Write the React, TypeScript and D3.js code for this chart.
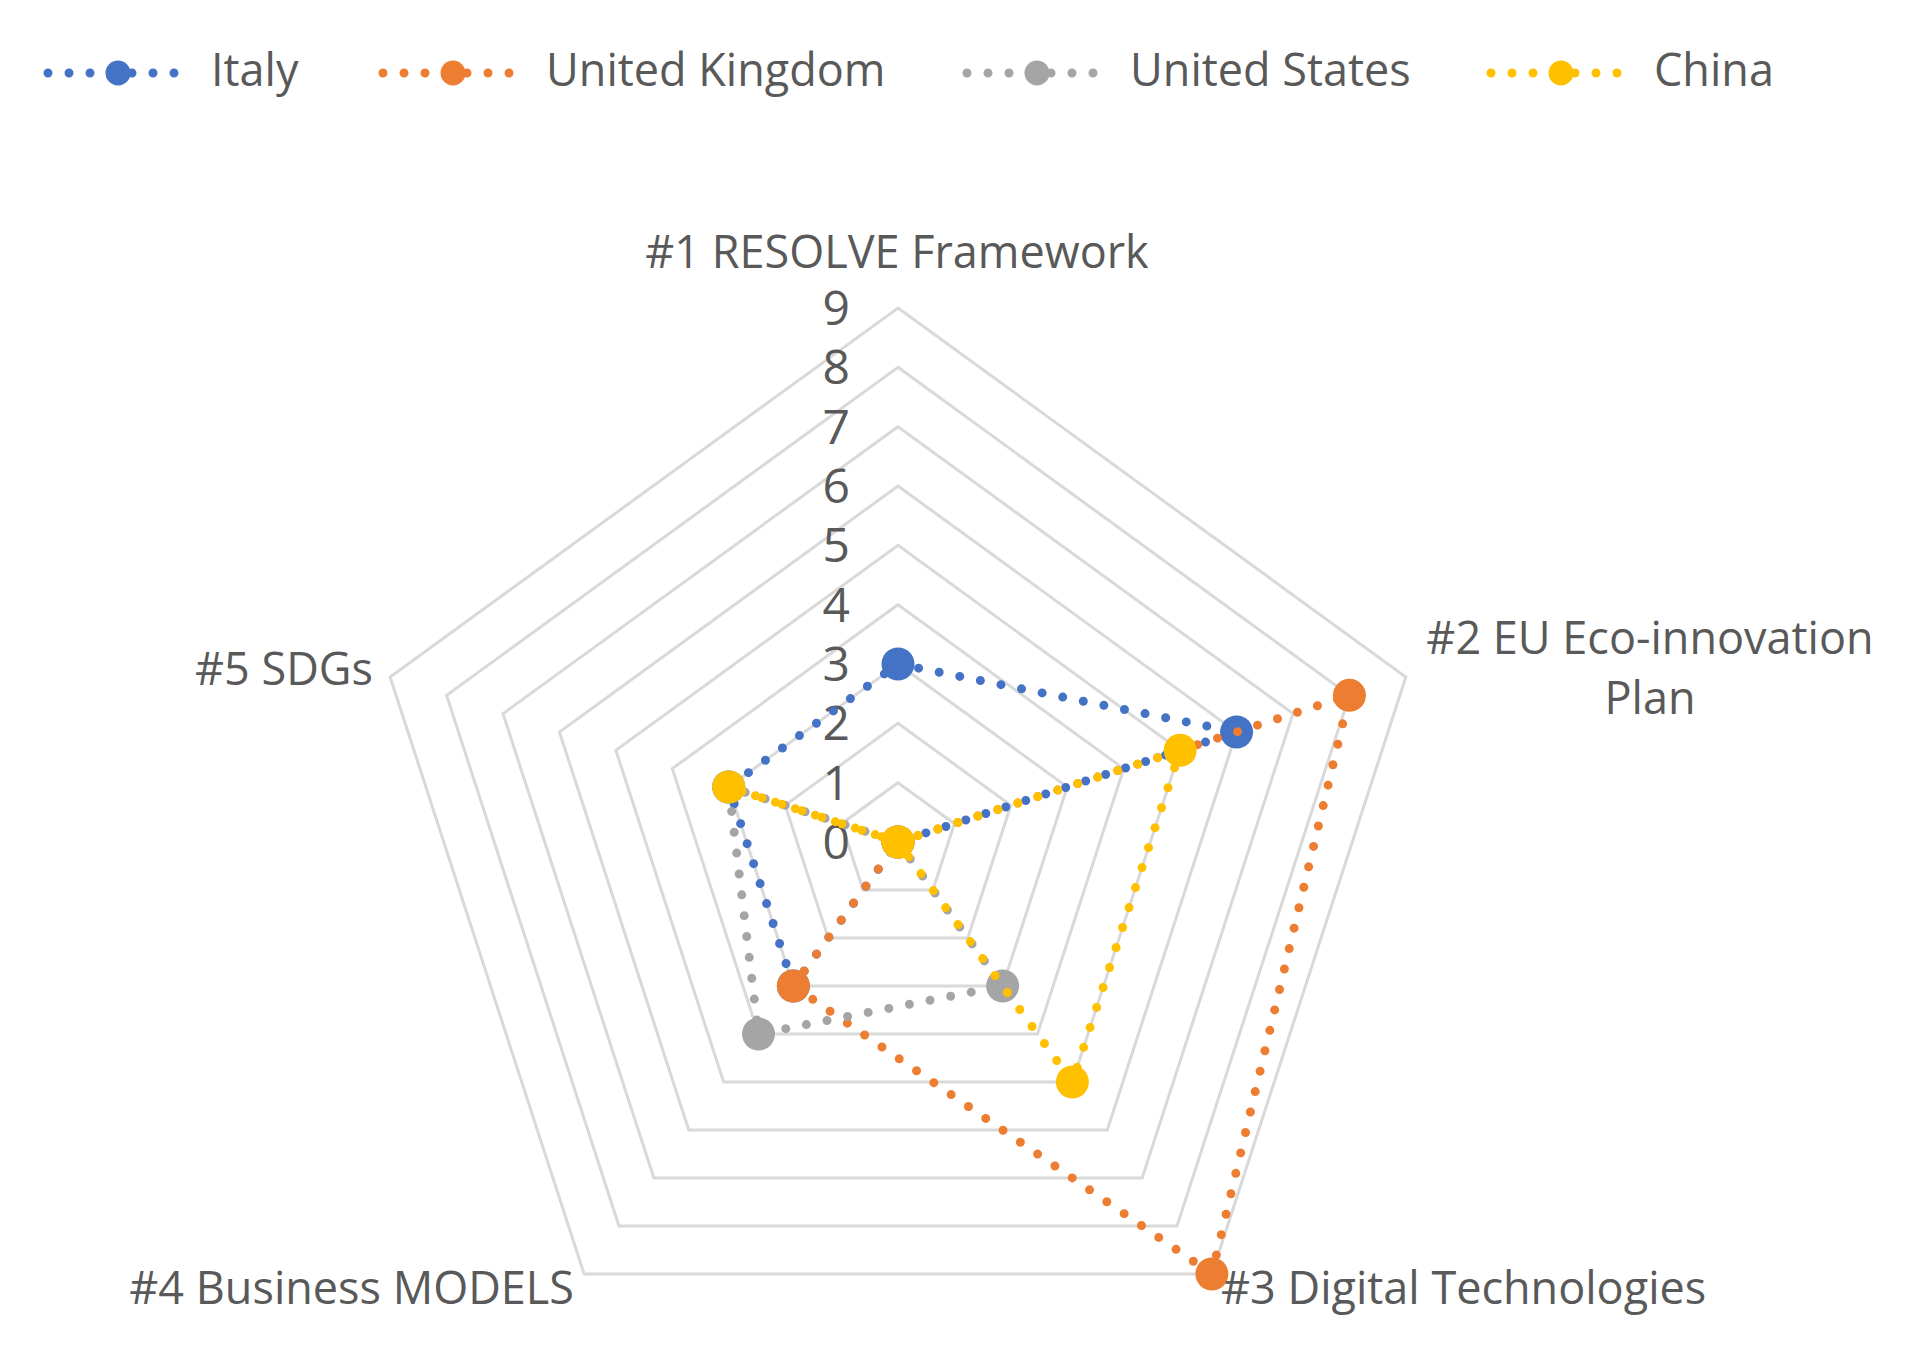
import * as d3 from "d3";
import React from "react";

// categories (axes of the radar), clockwise from the top
const categories = [
  ["#1 RESOLVE Framework"],
  ["#2 EU Eco-innovation", "Plan"],
  ["#3 Digital Technologies"],
  ["#4 Business MODELS"],
  ["#5 SDGs"],
];

const seriesNames = ["Italy", "United Kingdom", "United States", "China"];
const seriesColors = ["#4472C4", "#ED7D31", "#A5A5A5", "#FFC000"];

// one value per category, same order as categories
const italy = [3, 6, 0, 3, 3];
const unitedKingdom = [0, 8, 9, 3, 0];
const unitedStates = [0, 0, 3, 4, 3];
const china = [0, 5, 5, 0, 3];

const tickValues = [0, 1, 2, 3, 4, 5, 6, 7, 8, 9];

const W = 1908;
const H = 1353;
const cx = 898;
const cy = 842;
const maxR = 534;

const textColor = "#595959";
const fontFamily = "'Open Sans', 'Noto Sans', sans-serif";

// label placement per axis: x, first baseline, anchor
const labelPos = [
  {x: 897, y: 268, anchor: "middle"},
  {x: 1650, y: 654, anchor: "middle"},
  {x: 1221, y: 1304, anchor: "start"},
  {x: 574, y: 1304, anchor: "end"},
  {x: 373, y: 685, anchor: "end"},
];

const legendX = [118, 453, 1037, 1561];

export default function App() {
  const allSeries = [italy, unitedKingdom, unitedStates, china];

  const r = d3.scaleLinear().domain([0, 9]).range([0, maxR]);
  const angle = d3.scaleLinear().domain([0, categories.length]).range([0, 2 * Math.PI]);

  const radial = d3
    .lineRadial<number>()
    .angle((_, i) => angle(i))
    .radius((d) => r(d))
    .curve(d3.curveLinearClosed);

  const point = (v: number, i: number) => [
    cx + r(v) * Math.sin(angle(i)),
    cy - r(v) * Math.cos(angle(i)),
  ];

  const dotted = {strokeWidth: 9, strokeDasharray: "0 21", strokeLinecap: "round" as const};

  return (
    <svg width={W} height={H} style={{position: "absolute", left: 0, top: 0, background: "#fff"}}>
      {/* legend */}
      <g fontFamily={fontFamily} fontSize={45} fill={textColor}>
        {seriesNames.map((name, i) => (
          <g key={name}>
            <line
              x1={legendX[i] - 70}
              x2={legendX[i] + 64}
              y1={73}
              y2={73}
              stroke={seriesColors[i]}
              {...dotted}
            />
            <circle cx={legendX[i]} cy={73} r={12.5} fill={seriesColors[i]} />
            <text x={legendX[i] + 93} y={86}>
              {name}
            </text>
          </g>
        ))}
      </g>

      {/* grid */}
      <g transform={`translate(${cx},${cy})`}>
        {tickValues.slice(1).map((t) => (
          <path
            key={t}
            d={radial(categories.map(() => t)) as string}
            fill="none"
            stroke="#D9D9D9"
            strokeWidth={3}
          />
        ))}
      </g>

      {/* tick labels */}
      <g fontFamily={fontFamily} fontSize={48} fill={textColor} textAnchor="end">
        {tickValues.map((t) => (
          <text key={t} x={cx - 48} y={cy - r(t) + 17}>
            {t}
          </text>
        ))}
      </g>

      {/* category labels */}
      <g fontFamily={fontFamily} fontSize={45} fill={textColor}>
        {categories.map((lines, i) => (
          <text key={i} x={labelPos[i].x} y={labelPos[i].y} textAnchor={labelPos[i].anchor}>
            {lines.map((ln, j) => (
              <tspan key={j} x={labelPos[i].x} dy={j === 0 ? 0 : 60}>
                {ln}
              </tspan>
            ))}
          </text>
        ))}
      </g>

      {/* series */}
      {allSeries.map((vals, s) => (
        <g key={s}>
          <path
            transform={`translate(${cx},${cy})`}
            d={radial(vals) as string}
            fill="none"
            stroke={seriesColors[s]}
            {...dotted}
          />
          {vals.map((v, i) => {
            const [x, y] = point(v, i);
            return <circle key={i} cx={x} cy={y} r={16.5} fill={seriesColors[s]} />;
          })}
        </g>
      ))}
    </svg>
  );
}
